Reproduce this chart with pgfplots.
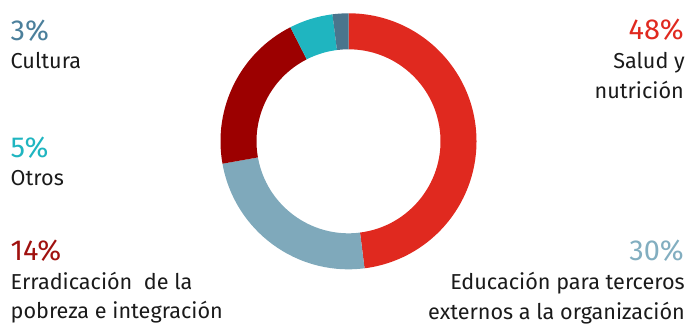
\documentclass[border=0pt]{standalone}
\usepackage{pgfplots}
\pgfplotsset{compat=1.18}
\usepackage{fontspec}
\setmainfont{Fira Sans}
\definecolor{cRed}{HTML}{E0291F}
\definecolor{cGray}{HTML}{7FA9BB}
\definecolor{cDark}{HTML}{9C0000}
\definecolor{cTeal}{HTML}{1FB5C0}
\definecolor{cSlate}{HTML}{4A758D}
\definecolor{tSlate}{HTML}{4B7F9B}
\definecolor{tGray}{HTML}{82AEC0}
\definecolor{tDark}{HTML}{A0110F}
\definecolor{txt}{HTML}{1A1A1A}
\begin{document}
\begin{tikzpicture}
\begin{axis}[x=1bp, y=1bp, xmin=0, xmax=690, ymin=0, ymax=324,
  hide axis, clip=false, scale only axis]
\path (rel axis cs:0,0) rectangle (rel axis cs:1,1);
% donut: start%/end% of each segment (clockwise from top)
\pgfplotsextra{
  \begin{scope}[shift={(axis cs:348.5,182.7)}]
  \foreach \s/\e/\c in {0/48.0/cRed, 48.0/72.2/cGray, 72.2/92.5/cDark, 92.5/98.0/cTeal, 98.0/100/cSlate}{
    \pgfmathsetmacro\a{90-3.6*\s}
    \pgfmathsetmacro\b{90-3.6*\e}
    \fill[\c] (\a:128bp) arc[start angle=\a, end angle=\b, radius=128bp]
      -- (\b:92bp) arc[start angle=\b, end angle=\a, radius=92bp] -- cycle;
  }
  \end{scope}
}
\tikzset{pct/.style={inner sep=0pt, font=\fontsize{29}{31}\selectfont},
         lab/.style={inner sep=0pt, text=txt, font=\fontsize{21.7}{24}\selectfont}}
% left labels
\node[pct, text=tSlate, anchor=base west] at (axis cs:10.5,283.3) {3\%};
\node[lab, anchor=base west] at (axis cs:10.5,255) {Cultura};
\node[pct, text=cTeal, anchor=base west] at (axis cs:10.5,166.3) {5\%};
\node[lab, anchor=base west] at (axis cs:10.5,138.3) {Otros};
\node[pct, text=tDark, anchor=base west] at (axis cs:10.5,63.3) {14\%};
\node[lab, anchor=base west] at (axis cs:10.5,34) {Erradicación\ \ de la};
\node[lab, anchor=base west] at (axis cs:10.5,5) {pobreza e integración};
% right labels
\node[pct, text=cRed, anchor=base east] at (axis cs:684,284) {48\%};
\node[lab, anchor=base east] at (axis cs:685,255.7) {Salud y};
\node[lab, anchor=base east] at (axis cs:684,225.7) {nutrición};
\node[pct, text=tGray, anchor=base east] at (axis cs:684,63.7) {30\%};
\node[lab, anchor=base east] at (axis cs:685,34) {Educación para terceros};
\node[lab, anchor=base east] at (axis cs:685,4.5) {externos a la organización};
\end{axis}
\end{tikzpicture}
\end{document}
